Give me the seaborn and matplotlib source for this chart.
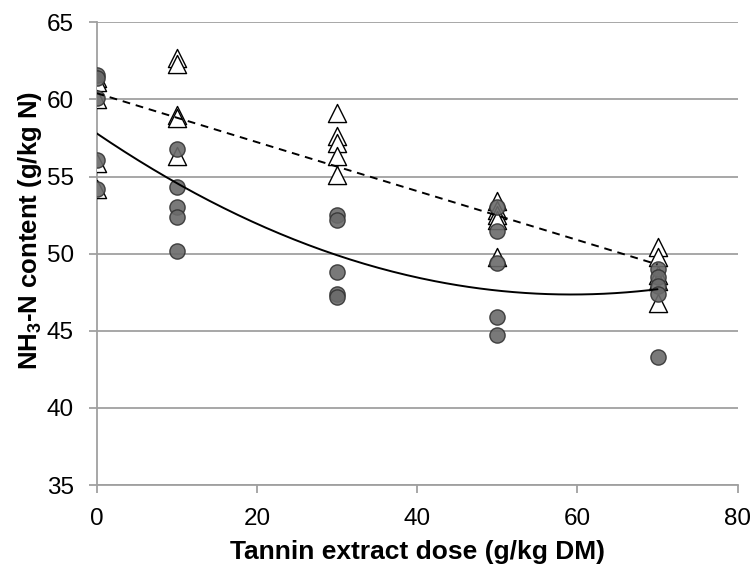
import numpy as np
import pandas as pd
import matplotlib
matplotlib.use("Agg")
import matplotlib.pyplot as plt
import seaborn as sns

# Data
dose_levels = [0, 10, 30, 50, 70]
circle_values = [
    [61.6, 61.4, 60.1, 56.1, 54.2],
    [56.8, 54.3, 53.0, 52.4, 50.2],
    [52.5, 52.2, 48.8, 47.4, 47.2],
    [53.0, 51.5, 49.4, 45.9, 44.7],
    [49.0, 48.5, 47.9, 47.4, 43.3],
]
triangle_values = [
    [61.4, 61.1, 60.0, 55.9, 54.2],
    [62.7, 62.3, 59.0, 58.8, 56.3],
    [59.1, 57.6, 57.2, 56.3, 55.1],
    [53.4, 52.8, 52.5, 52.2, 49.8],
    [50.4, 49.8, 48.6, 48.2, 46.8],
]
# Trendlines
quad_coef = [57.8, -0.3526, 0.002975]   # a + b x + c x^2 (solid)
lin_coef = [60.4, -0.1586]              # a + b x (dashed)
x_ticks = [0, 20, 40, 60, 80]
y_ticks = [35, 40, 45, 50, 55, 60, 65]

rows = []
for d, cv, tv in zip(dose_levels, circle_values, triangle_values):
    for v in cv:
        rows.append({"dose": d, "value": v, "grp": "circle"})
    for v in tv:
        rows.append({"dose": d, "value": v, "grp": "triangle"})
df = pd.DataFrame(rows)

sns.set_theme(style="white")
plt.rcParams['font.family'] = ['Liberation Sans', 'DejaVu Sans']
plt.rcParams['mathtext.fontset'] = 'custom'
plt.rcParams['mathtext.bf'] = 'Liberation Sans:bold'
plt.rcParams['mathtext.rm'] = 'Liberation Sans'
plt.rcParams['text.color'] = 'black'
plt.rcParams['axes.labelcolor'] = 'black'

fig = plt.figure(figsize=(7.55, 5.7), dpi=100)
ax = fig.add_axes([0.128, 0.149, 0.849, 0.812])

for y in y_ticks:
    ax.axhline(y, color="#a0a0a0", lw=1.3, zorder=0)

sns.scatterplot(data=df[df.grp == "triangle"], x="dose", y="value", marker="^",
                s=170, color="white", edgecolor="black", linewidth=1.0, ax=ax, zorder=3,
                legend=False)
sns.scatterplot(data=df[df.grp == "circle"], x="dose", y="value", marker="o",
                s=120, color="#6b6b6b", edgecolor="#333333", linewidth=1.0, alpha=0.9,
                ax=ax, zorder=4, legend=False)

xs = np.linspace(0, 70, 200)
ax.plot(xs, quad_coef[0] + quad_coef[1] * xs + quad_coef[2] * xs ** 2,
        color="black", lw=1.4, zorder=5)
xl = np.array([0, 70])
ax.plot(xl, lin_coef[0] + lin_coef[1] * xl, color="black", lw=1.4,
        ls=(0, (4, 3)), zorder=5)

ax.set_xlim(0, 80)
ax.set_ylim(35, 65)
ax.set_xticks(x_ticks)
ax.set_yticks(y_ticks)
ax.tick_params(axis="both", labelsize=17.5, labelcolor="black")
ax.tick_params(axis="x", length=5.5, width=1.3, color="#a0a0a0", direction="out",
               bottom=True, pad=11)
ax.tick_params(axis="y", length=5.5, width=1.3, color="#a0a0a0", direction="out",
               left=True, pad=11)
for s in ["top", "right"]:
    ax.spines[s].set_visible(False)
for s in ["left", "bottom"]:
    ax.spines[s].set_color("#a0a0a0")
    ax.spines[s].set_linewidth(1.3)

ax.set_xlabel("Tannin extract dose (g/kg DM)", fontsize=19, fontweight="bold",
              labelpad=7, color="black")
ax.set_ylabel("NH$_{\\mathbf{3}}$-N content (g/kg N)", fontsize=18.5, fontweight="bold",
              labelpad=2, color="black")
ax.yaxis.label.set_y(0.551)

fig.savefig("out.png", dpi=100)
